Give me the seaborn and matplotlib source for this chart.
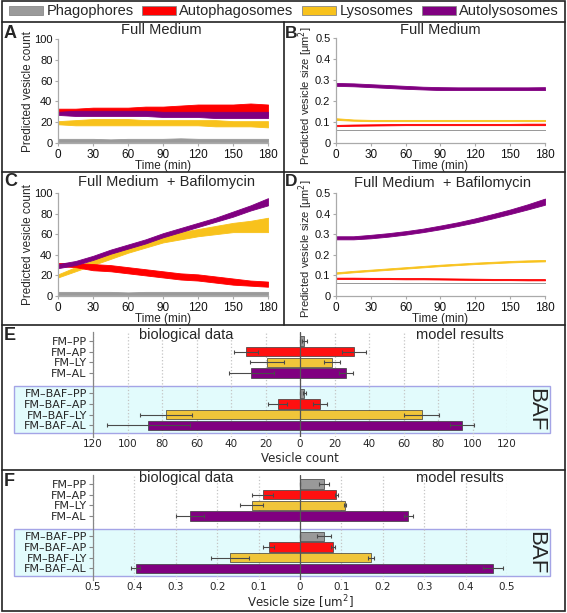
import numpy as np
import pandas as pd
import matplotlib
matplotlib.use('Agg')
import matplotlib.pyplot as plt
import seaborn as sns
from matplotlib.patches import Patch, Rectangle
from matplotlib.lines import Line2D
from matplotlib.transforms import blended_transform_factory

# ---------------- data ----------------
time_min = [0, 15, 30, 45, 60, 75, 90, 105, 120, 135, 150, 165, 180]

# Panel A: Full Medium, predicted vesicle count (band lower / upper)
A_PP_lo = [1, 1, 1, 1, 1, 1, 1, 1, 1, 1, 1, 1, 1]
A_PP_hi = [4, 4, 4, 3.5, 4, 4, 4, 4.5, 4, 4, 4, 4, 4]
A_LY_lo = [18, 17, 17, 17, 17, 17, 17, 17, 17, 16, 16, 16, 15]
A_LY_hi = [21, 22, 23, 23, 23, 22, 22, 22, 22, 22, 21, 21, 21]
A_AP_lo = [28, 28, 28, 28, 28, 28, 28, 28, 28, 27, 27, 27, 26]
A_AP_hi = [33, 33, 34, 34, 34, 35, 35, 36, 37, 37, 37, 38, 37]
A_AL_lo = [27, 26, 26, 26, 26, 26, 25, 25, 25, 24, 24, 24, 24]
A_AL_hi = [30, 31, 31, 31, 31, 31, 30, 30, 30, 30, 30, 30, 30]

# Panel B: Full Medium, predicted vesicle size
B_PP_lo = [0.061, 0.061, 0.061, 0.061, 0.061, 0.061, 0.061, 0.061, 0.061, 0.061, 0.061, 0.061, 0.061]
B_PP_hi = [0.063, 0.063, 0.063, 0.063, 0.063, 0.063, 0.063, 0.063, 0.063, 0.063, 0.063, 0.063, 0.063]
B_AP_lo = [0.080, 0.082, 0.083, 0.084, 0.085, 0.085, 0.085, 0.085, 0.085, 0.085, 0.085, 0.085, 0.085]
B_AP_hi = [0.086, 0.088, 0.089, 0.090, 0.091, 0.091, 0.091, 0.091, 0.091, 0.091, 0.091, 0.092, 0.092]
B_LY_lo = [0.110, 0.106, 0.104, 0.104, 0.104, 0.104, 0.104, 0.104, 0.104, 0.104, 0.104, 0.104, 0.104]
B_LY_hi = [0.118, 0.112, 0.110, 0.110, 0.110, 0.110, 0.110, 0.110, 0.110, 0.110, 0.110, 0.110, 0.110]
B_AL_lo = [0.272, 0.270, 0.266, 0.262, 0.258, 0.255, 0.252, 0.252, 0.252, 0.252, 0.252, 0.252, 0.252]
B_AL_hi = [0.286, 0.284, 0.280, 0.276, 0.272, 0.268, 0.266, 0.265, 0.265, 0.265, 0.265, 0.265, 0.266]

# Panel C: Full Medium + Bafilomycin, predicted vesicle count
C_PP_lo = [1, 1, 1, 1, 1, 1, 1, 1, 1, 1, 1, 1, 1]
C_PP_hi = [4, 4, 4, 4, 3.5, 4, 4, 4, 4, 4, 4, 4, 4]
C_LY_lo = [18, 24, 30, 36, 42, 47, 52, 55, 58, 60, 62, 62, 62]
C_LY_hi = [21, 28, 35, 42, 48, 53, 58, 62, 65, 68, 71, 73, 76]
C_AP_lo = [29, 28, 25, 24, 22, 20, 18, 16, 15, 13, 11, 10, 9]
C_AP_hi = [32, 32, 31, 30, 28, 26, 24, 22, 21, 19, 17, 15, 14]
C_AL_lo = [27, 30, 35, 41, 46, 51, 57, 62, 67, 72, 77, 83, 88]
C_AL_hi = [31, 34, 39, 45, 50, 55, 61, 66, 71, 76, 82, 88, 95]

# Panel D: Full Medium + Bafilomycin, predicted vesicle size
D_PP_lo = [0.061, 0.061, 0.061, 0.061, 0.061, 0.061, 0.061, 0.061, 0.061, 0.061, 0.061, 0.061, 0.061]
D_PP_hi = [0.063, 0.063, 0.063, 0.063, 0.063, 0.063, 0.063, 0.063, 0.063, 0.063, 0.063, 0.063, 0.063]
D_AP_lo = [0.083, 0.083, 0.082, 0.082, 0.081, 0.081, 0.080, 0.079, 0.078, 0.077, 0.077, 0.076, 0.076]
D_AP_hi = [0.089, 0.089, 0.088, 0.088, 0.087, 0.087, 0.086, 0.085, 0.084, 0.083, 0.083, 0.082, 0.082]
D_LY_lo = [0.108, 0.115, 0.121, 0.127, 0.133, 0.139, 0.145, 0.150, 0.155, 0.159, 0.163, 0.166, 0.168]
D_LY_hi = [0.115, 0.122, 0.128, 0.134, 0.140, 0.146, 0.152, 0.157, 0.162, 0.166, 0.170, 0.173, 0.175]
D_AL_lo = [0.275, 0.275, 0.280, 0.288, 0.298, 0.310, 0.324, 0.340, 0.357, 0.377, 0.398, 0.420, 0.443]
D_AL_hi = [0.290, 0.290, 0.297, 0.305, 0.315, 0.327, 0.342, 0.358, 0.377, 0.398, 0.420, 0.445, 0.473]

# Panels E / F: biological data (left) vs model results (right)
row_labels = ['FM–PP', 'FM–AP', 'FM–LY', 'FM–AL',
              'FM–BAF–PP', 'FM–BAF–AP', 'FM–BAF–LY', 'FM–BAF–AL']
row_kinds = ['PP', 'AP', 'LY', 'AL', 'PP', 'AP', 'LY', 'AL']

count_bio = [0, 31.5, 19.2, 28.2, 0, 13, 77.5, 88]
count_bio_err = [0, 7, 10, 13, 0, 5.5, 15, 24]
count_model = [2.5, 31.5, 18.5, 26.5, 2.5, 11.5, 70.5, 94]
count_model_err = [1.5, 7, 4.5, 4, 1, 4, 10, 7]

size_bio = [0, 0.090, 0.117, 0.266, 0, 0.076, 0.169, 0.397]
size_bio_err = [0, 0.025, 0.028, 0.033, 0, 0.013, 0.046, 0.011]
size_model = [0.059, 0.088, 0.108, 0.262, 0.059, 0.080, 0.172, 0.466]
size_model_err = [0.012, 0.004, 0.002, 0.010, 0.017, 0.005, 0.007, 0.024]

legend_labels = ['Phagophores', 'Autophagosomes', 'Lysosomes', 'Autolysosomes']

# ---------------- style ----------------
sns.set_theme(style='white')
plt.rcParams['font.family'] = ['Liberation Sans', 'DejaVu Sans']

band_col = {'PP': '#9a9a9a', 'AP': '#ff0000', 'LY': '#f8c21c', 'AL': '#800080'}
bar_col = {'PP': '#999999', 'AP': '#ff1010', 'LY': '#f0c53a', 'AL': '#800080'}

W, H = 567, 613
fig = plt.figure(figsize=(W / 100, H / 100), dpi=100)
fig.patch.set_facecolor('white')


def fx(px):
    return px / W


def fy(py):
    return 1 - py / H


def add_ax(l, t, r, b):
    return fig.add_axes([fx(l), fy(b), (r - l) / W, (b - t) / H])


def ts_panel(ax, bands, ymax, yticks, yticklabels):
    t = np.array(time_min)
    for kind, lo, hi in bands:
        ax.fill_between(t, lo, hi, color=band_col[kind], lw=0.6,
                        edgecolor=band_col[kind])
    ax.set_xlim(0, 180)
    ax.set_ylim(0, ymax)
    ax.set_xticks([0, 30, 60, 90, 120, 150, 180])
    ax.set_yticks(yticks)
    ax.set_yticklabels(yticklabels)
    for s in ['top', 'right']:
        ax.spines[s].set_visible(False)
    for s in ['left', 'bottom']:
        ax.spines[s].set_color('#aaaaaa')
        ax.spines[s].set_linewidth(0.9)
    ax.tick_params(axis='both', direction='out', length=2.5, width=0.8,
                   color='#aaaaaa', labelsize=8.5, pad=1.5, labelcolor='#111111',
                   left=True, bottom=True)
    ax.tick_params(axis='y', labelsize=8)
    ax.set_facecolor('white')


cnt_ticks = [0, 20, 40, 60, 80, 100]
cnt_labels = ['0', '20', '40', '60', '80', '100']
sz_ticks = [0, 0.1, 0.2, 0.3, 0.4, 0.5]
sz_labels = ['0', '0.1', '0.2', '0.3', '0.4', '0.5']

axA = add_ax(58, 39, 268, 143)
ts_panel(axA, [('PP', A_PP_lo, A_PP_hi), ('LY', A_LY_lo, A_LY_hi),
               ('AP', A_AP_lo, A_AP_hi), ('AL', A_AL_lo, A_AL_hi)],
         100, cnt_ticks, cnt_labels)
axB = add_ax(336, 38, 545, 143)
ts_panel(axB, [('PP', B_PP_lo, B_PP_hi), ('AP', B_AP_lo, B_AP_hi),
               ('LY', B_LY_lo, B_LY_hi), ('AL', B_AL_lo, B_AL_hi)],
         0.5, sz_ticks, sz_labels)
axC = add_ax(58, 193, 268, 296)
ts_panel(axC, [('PP', C_PP_lo, C_PP_hi), ('LY', C_LY_lo, C_LY_hi),
               ('AP', C_AP_lo, C_AP_hi), ('AL', C_AL_lo, C_AL_hi)],
         100, cnt_ticks, cnt_labels)
axD = add_ax(336, 193, 545, 296)
ts_panel(axD, [('PP', D_PP_lo, D_PP_hi), ('AP', D_AP_lo, D_AP_hi),
               ('LY', D_LY_lo, D_LY_hi), ('AL', D_AL_lo, D_AL_hi)],
         0.5, sz_ticks, sz_labels)

# titles / axis labels of A-D
for cx, cy, txt in [(161, 30, 'Full Medium'), (440, 30, 'Full Medium'),
                    (166, 182, 'Full Medium  + Bafilomycin'),
                    (442, 183, 'Full Medium  + Bafilomycin')]:
    fig.text(fx(cx), fy(cy), txt, fontsize=10.5, ha='center', va='center')
for cx, cy in [(163, 166), (440, 166), (163, 319), (440, 319)]:
    fig.text(fx(cx), fy(cy), 'Time (min)', fontsize=8.5, ha='center', va='center')
for cx, cy, txt, fs in [(28, 92, 'Predicted vesicle count', 8.5),
                        (306, 96, 'Predicted vesicle size [μm$^2$]', 8),
                        (28, 245, 'Predicted vesicle count', 8.5),
                        (306, 249, 'Predicted vesicle size [μm$^2$]', 8)]:
    fig.text(fx(cx), fy(cy), txt, fontsize=fs, ha='center', va='center',
             rotation=90)

# ---------------- bar panels ----------------
gap = 0.9
positions = [i + (gap if i >= 4 else 0) for i in range(len(row_labels))]


def bar_panel(ax, bio, bio_err, model, model_err, xmax, xticks, xticklabels):
    df_bio = pd.DataFrame({'value': [-v for v in bio], 'pos': positions,
                           'kind': row_kinds})
    df_mod = pd.DataFrame({'value': model, 'pos': positions, 'kind': row_kinds})
    for df in (df_bio, df_mod):
        sns.barplot(data=df, x='value', y='pos', hue='kind', palette=bar_col,
                    orient='h', native_scale=True, dodge=False, width=0.86,
                    saturation=1, edgecolor='#3a3a3a', linewidth=0.5,
                    errorbar=None, legend=False, ax=ax, zorder=2)
    ax.errorbar([-v for v in bio], positions, xerr=bio_err, fmt='none',
                ecolor='#4a4a4a', elinewidth=0.8, capsize=1.5, capthick=0.8,
                zorder=3)
    ax.errorbar(model, positions, xerr=model_err, fmt='none',
                ecolor='#4a4a4a', elinewidth=0.8, capsize=1.5, capthick=0.8,
                zorder=3)
    ax.axvline(0, color='#555555', lw=0.9, zorder=4)
    ax.set_xlim(-xmax, xmax)
    ax.set_ylim(9.0, -0.85)
    ax.set_xticks(xticks)
    ax.set_xticklabels(xticklabels)
    ax.set_yticks(positions)
    ax.set_yticklabels(row_labels, family='DejaVu Sans')
    ax.set_xlabel('')
    ax.set_ylabel('')
    ax.set_axisbelow(True)
    ax.grid(axis='x', ls=':', color='#c4c4c4', lw=0.9)
    ax.grid(axis='y', visible=False)
    for s in ['top', 'right', 'bottom']:
        ax.spines[s].set_visible(False)
    ax.spines['left'].set_color('#888888')
    ax.spines['left'].set_linewidth(0.9)
    ax.tick_params(axis='y', direction='out', length=3, width=0.8,
                   color='#888888', labelsize=8, pad=1.5, left=True)
    ax.tick_params(axis='x', length=0, labelsize=7.5, pad=1.5)
    for lab in ax.get_xticklabels():
        lab.set_family('DejaVu Sans')
    ax.patch.set_alpha(0)
    tr = blended_transform_factory(ax.transAxes, ax.transData)
    ax.add_patch(Rectangle((-0.19, 4.22), 1.294, 4.4, transform=tr,
                           facecolor='#e2fbfc', edgecolor='#a4a4e6', lw=1.0,
                           clip_on=False, zorder=0.1))
    ax.text(1.068, 6.4, 'BAF', transform=tr, rotation=-90, fontsize=16,
            ha='center', va='center')
    ax.text(-xmax * 0.548, -0.6, 'biological data', fontsize=10.5,
            ha='center', va='center')
    ax.text(xmax * 0.77, -0.6, 'model results', fontsize=10.5,
            ha='center', va='center')


axE = add_ax(93, 332, 507, 437)
bar_panel(axE, count_bio, count_bio_err, count_model, count_model_err, 120,
          [-120, -100, -80, -60, -40, -20, 0, 20, 40, 60, 80, 100, 120],
          ['120', '100', '80', '60', '40', '20', '0', '20', '40', '60', '80',
           '100', '120'])
axF = add_ax(93, 475, 507, 580)
bar_panel(axF, size_bio, size_bio_err, size_model, size_model_err, 0.5,
          [-0.5, -0.4, -0.3, -0.2, -0.1, 0, 0.1, 0.2, 0.3, 0.4, 0.5],
          ['0.5', '0.4', '0.3', '0.2', '0.1', '0', '0.1', '0.2', '0.3', '0.4',
           '0.5'])
fig.text(fx(300), fy(459), 'Vesicle count', fontsize=8.5, ha='center',
         va='center', family='DejaVu Sans')
fig.text(fx(300), fy(602), 'Vesicle size [um$^2$]', fontsize=8.5, ha='center',
         va='center', family='DejaVu Sans')

# ---------------- legend ----------------
handles = [Patch(facecolor=band_col[k], edgecolor='#888888', lw=0.6, label=l)
           for k, l in zip(['PP', 'AP', 'LY', 'AL'], legend_labels)]
fig.legend(handles=handles, loc='center', bbox_to_anchor=(fx(284), fy(11.5)),
           ncol=4, frameon=False, fontsize=10.5, handlelength=2.3,
           handleheight=0.55, handletextpad=0.25, columnspacing=0.6,
           borderaxespad=0, borderpad=0)

# ---------------- frames and panel letters ----------------
fig.add_artist(Rectangle((fx(2), fy(611)), (565 - 2) / W, (611 - 1) / H,
                         transform=fig.transFigure, fill=False,
                         edgecolor='#222222', lw=1.2))
for yy in [21.5, 172, 325, 470]:
    fig.add_artist(Line2D([fx(2), fx(565)], [fy(yy), fy(yy)],
                          transform=fig.transFigure, color='#222222', lw=1.2))
fig.add_artist(Line2D([fx(284), fx(284)], [fy(21.5), fy(325)],
                      transform=fig.transFigure, color='#222222', lw=1.2))
for cx, cy, letter, fs in [(4, 33, 'A', 13), (284.5, 33, 'B', 12.5),
                           (4, 181, 'C', 13), (284.5, 182, 'D', 12.5),
                           (4, 336, 'E', 13), (4, 481, 'F', 13)]:
    fig.text(fx(cx), fy(cy), letter, fontsize=fs, fontweight='bold',
             ha='left', va='center')

fig.savefig('out.png', dpi=100, facecolor='white')
